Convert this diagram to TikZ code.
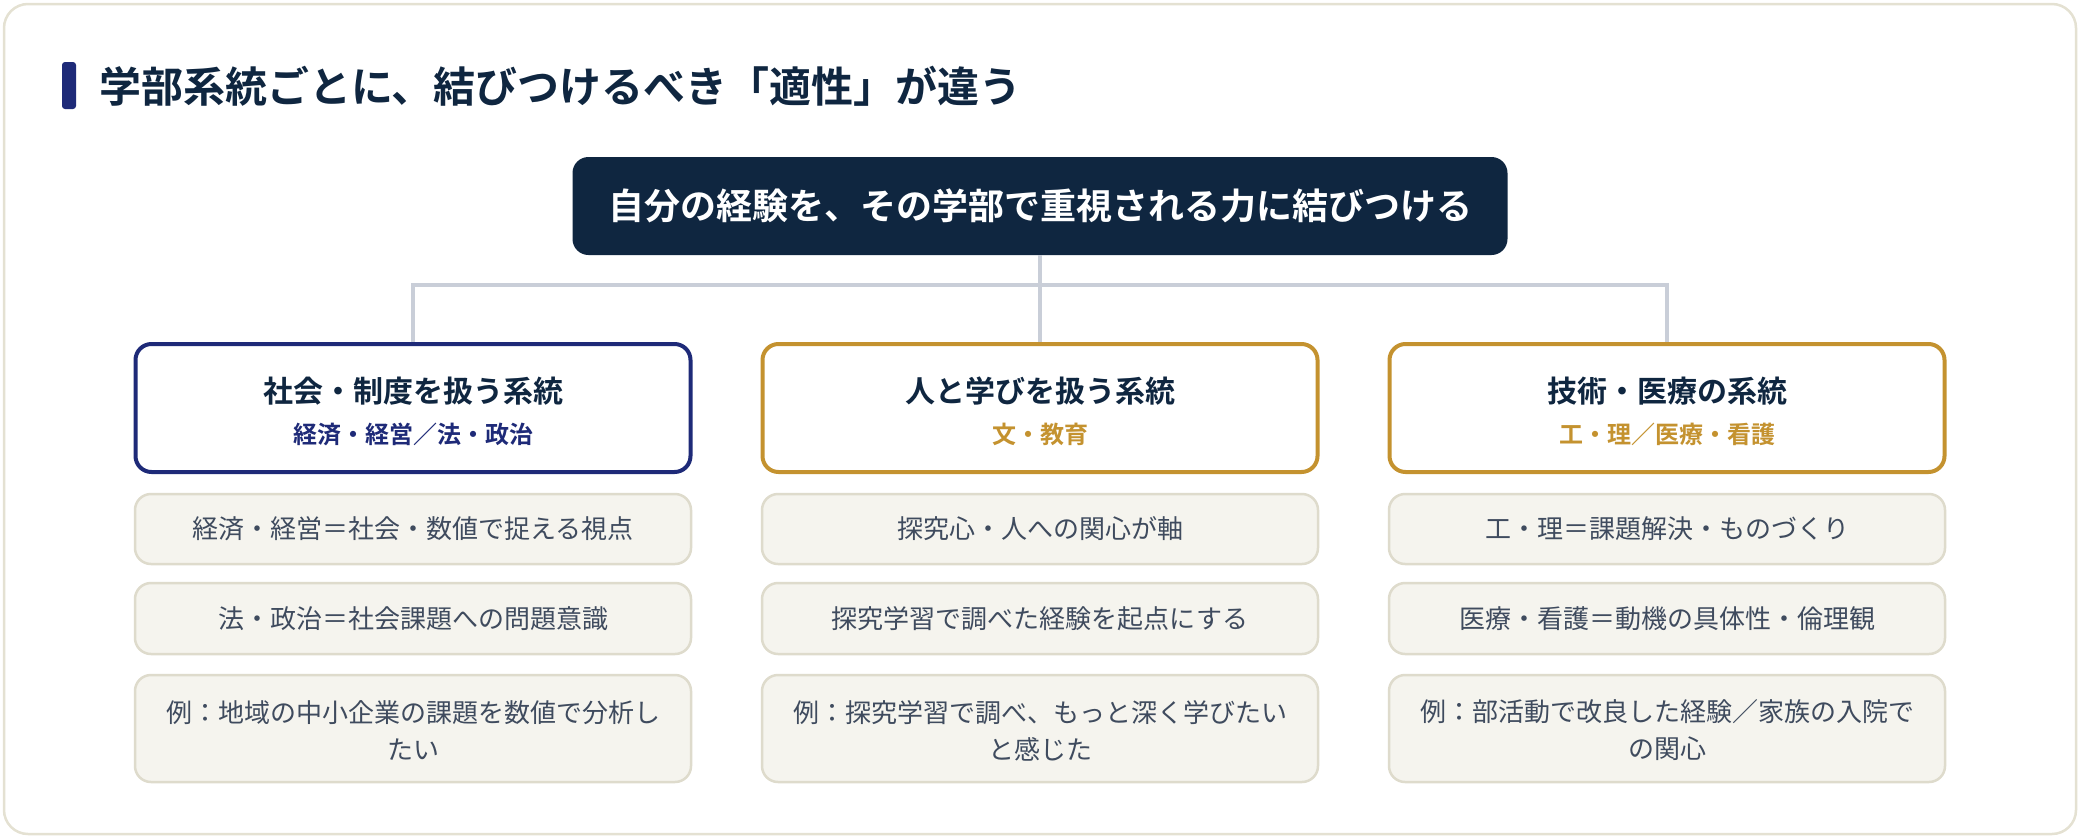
\documentclass[tikz,border=0pt]{standalone}
\usepackage{fontspec}
\setmainfont{Noto Sans CJK JP}[BoldFont={Noto Sans CJK JP Bold}]
\definecolor{ink}{HTML}{0F2640}
\definecolor{indigo}{HTML}{1E2A78}
\definecolor{gold}{HTML}{C4922F}
\definecolor{conncol}{HTML}{C9CED8}
\definecolor{cardline}{HTML}{E4E1D2}
\definecolor{itemfill}{HTML}{F5F4EE}
\definecolor{itemline}{HTML}{DEDBCC}
\definecolor{itemtext}{HTML}{3F4B5E}
\tikzset{
  card/.style={draw=cardline, line width=2.5pt, fill=white, rounded corners=24pt},
  topbox/.style={rectangle, fill=ink, rounded corners=16pt, minimum width=935pt, minimum height=98pt, inner sep=0pt},
  topfont/.style={font=\bfseries\fontsize{36}{42}\selectfont, text=white},
  catbox/.style={rectangle, draw=#1, fill=white, line width=4pt, rounded corners=16pt, minimum width=555pt, minimum height=128pt, inner sep=0pt},
  cattitle/.style={font=\bfseries\fontsize{30}{36}\selectfont, text=ink},
  catsub/.style={font=\bfseries\fontsize{24}{29}\selectfont, text=#1},
  itembox/.style={rectangle, draw=itemline, fill=itemfill, line width=2.5pt, rounded corners=16pt, minimum width=556pt, inner sep=0pt},
  itemfont/.style={font=\fontsize{26}{37}\selectfont, text=itemtext, align=center},
  conn/.style={draw=conncol, line width=4pt},
}
\begin{document}
\begin{tikzpicture}[x=1pt,y=-1pt]
\useasboundingbox (0,0) rectangle (2080,838);
\draw[card] (4,4) rectangle (2076,834);
% heading
\node[rectangle, fill=indigo, rounded corners=3pt, minimum width=14pt, minimum height=47pt, inner sep=0pt] (bar) at (69,85.5) {};
\node[anchor=west, inner sep=0pt, font=\bfseries\fontsize{42}{48}\selectfont, text=ink] (heading) at (99,86) {学部系統ごとに、結びつけるべき「適性」が違う};
% top box
\node[topbox] (top) at (1040,206) {};
\node[topfont, inner sep=0pt] (toptext) at (1040,206) {自分の経験を、その学部で重視される力に結びつける};
% category boxes
\node[catbox=indigo] (c1) at (413,408) {};
\node[catbox=gold] (c2) at (1040,408) {};
\node[catbox=gold] (c3) at (1667,408) {};
\node[cattitle] (t1) at (413,391) {社会・制度を扱う系統};
\node[catsub=indigo] (s1) at (413,434) {経済・経営／法・政治};
\node[cattitle] (t2) at (1040,391) {人と学びを扱う系統};
\node[catsub=gold] (s2) at (1040,434) {文・教育};
\node[cattitle] (t3) at (1667,391) {技術・医療の系統};
\node[catsub=gold] (s3) at (1667,434) {工・理／医療・看護};
% connectors
\coordinate (hub) at (1040,285);
\draw[conn] (top.south) -- (c2.north);
\draw[conn] (c1.north) |- (hub) -| (c3.north);
% items column 1
\node[itembox, minimum height=70pt] (a1) at (413,529) {};
\node[itemfont] at (a1) {経済・経営＝社会・数値で捉える視点};
\node[itembox, minimum height=71pt] (a2) at (413,618.5) {};
\node[itemfont] at (a2) {法・政治＝社会課題への問題意識};
\node[itembox, minimum height=107pt] (a3) at (413,728.5) {};
\node[itemfont] at (413,730.5) {例：地域の中小企業の課題を数値で分析し\\たい};
% items column 2
\node[itembox, minimum height=70pt] (b1) at (1040,529) {};
\node[itemfont] at (b1) {探究心・人への関心が軸};
\node[itembox, minimum height=71pt] (b2) at (1040,618.5) {};
\node[itemfont] at (b2) {探究学習で調べた経験を起点にする};
\node[itembox, minimum height=107pt] (b3) at (1040,728.5) {};
\node[itemfont] at (1040,730.5) {例：探究学習で調べ、もっと深く学びたい\\と感じた};
% items column 3
\node[itembox, minimum height=70pt] (d1) at (1667,529) {};
\node[itemfont] at (d1) {工・理＝課題解決・ものづくり};
\node[itembox, minimum height=71pt] (d2) at (1667,618.5) {};
\node[itemfont] at (d2) {医療・看護＝動機の具体性・倫理観};
\node[itembox, minimum height=107pt] (d3) at (1667,728.5) {};
\node[itemfont] at (1667,730.5) {例：部活動で改良した経験／家族の入院で\\の関心};
\end{tikzpicture}
\end{document}
